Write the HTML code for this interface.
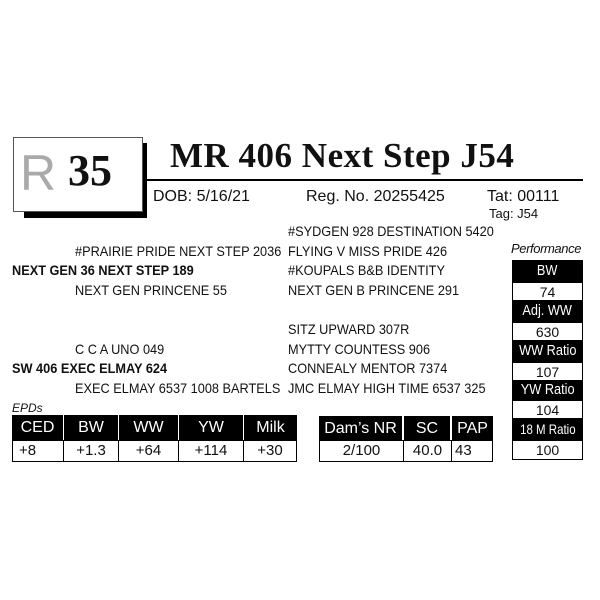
<!DOCTYPE html>
<html><head><style>
body{margin:0;width:600px;height:600px;background:#fff;position:relative;overflow:hidden;font-family:"Liberation Sans",Arial,sans-serif;color:#111}
.a{position:absolute;white-space:nowrap}
.n{position:absolute;white-space:nowrap;font-size:14px;line-height:16px;transform:scaleX(0.91);transform-origin:left center}
.b{font-weight:bold}
.blk{position:absolute;background:#000;color:#fff;text-align:center;font-size:15px;line-height:22px;white-space:nowrap}
.blk span{display:inline-block;transform:scaleX(0.85)}
.wt{position:absolute;background:#fff;border:1px solid #000;box-sizing:border-box;text-align:center;font-size:14px;line-height:18px;white-space:nowrap}
</style></head><body>
<div class="a" style="left:24px;top:143px;width:123px;height:75px;background:#000"></div>
<div class="a" style="left:13px;top:137px;width:130px;height:75px;background:#fff;border:1px solid #555;box-sizing:border-box"></div>
<div class="a" style="left:20px;top:143px;font-family:'Liberation Sans',sans-serif;font-size:50px;line-height:60px;color:#aaa">R</div>
<div class="a" style="left:68px;top:146px;font-family:'Liberation Serif',serif;font-weight:bold;font-size:44px;line-height:50px">35</div>
<div class="a" style="left:170px;top:137px;font-family:'Liberation Serif',serif;font-weight:bold;font-size:35px;line-height:38px;letter-spacing:0.5px">MR 406 Next Step J54</div>
<div class="a" style="left:147px;top:179px;width:436px;height:2px;background:#000"></div>
<div class="a" style="left:153px;top:188px;font-size:16px;line-height:18px">DOB: 5/16/21</div>
<div class="a" style="left:306px;top:188px;font-size:16px;line-height:18px">Reg. No. 20255425</div>
<div class="a" style="left:487px;top:188px;font-size:16px;line-height:18px">Tat: 00111</div>
<div class="a" style="left:489px;top:206px;font-size:13px;line-height:15px">Tag: J54</div>

<div class="n" style="left:288px;top:223px">#SYDGEN 928 DESTINATION 5420</div>
<div class="n" style="left:75px;top:243px">#PRAIRIE PRIDE NEXT STEP 2036</div>
<div class="n" style="left:288px;top:243px">FLYING V MISS PRIDE 426</div>
<div class="n b" style="left:12px;top:262px">NEXT GEN 36 NEXT STEP 189</div>
<div class="n" style="left:288px;top:262px">#KOUPALS B&amp;B IDENTITY</div>
<div class="n" style="left:75px;top:282px">NEXT GEN PRINCENE 55</div>
<div class="n" style="left:288px;top:282px">NEXT GEN B PRINCENE 291</div>
<div class="n" style="left:288px;top:321px">SITZ UPWARD 307R</div>
<div class="n" style="left:75px;top:341px">C C A UNO 049</div>
<div class="n" style="left:288px;top:341px">MYTTY COUNTESS 906</div>
<div class="n b" style="left:12px;top:360px">SW 406 EXEC ELMAY 624</div>
<div class="n" style="left:288px;top:360px">CONNEALY MENTOR 7374</div>
<div class="n" style="left:75px;top:380px">EXEC ELMAY 6537 1008 BARTELS</div>
<div class="n" style="left:288px;top:380px">JMC ELMAY HIGH TIME 6537 325</div>

<div class="a" style="left:511px;top:241px;font-size:13px;font-style:italic;line-height:16px;letter-spacing:-0.4px">Performance</div>
<div class="blk" style="left:512px;top:260px;width:71px"><span>BW</span></div>
<div class="wt" style="left:512px;top:282px;width:71px">74</div>
<div class="blk" style="left:512px;top:300px;width:71px"><span>Adj. WW</span></div>
<div class="wt" style="left:512px;top:322px;width:71px">630</div>
<div class="blk" style="left:512px;top:340px;width:71px"><span>WW Ratio</span></div>
<div class="wt" style="left:512px;top:362px;width:71px">107</div>
<div class="blk" style="left:512px;top:380px;width:71px;line-height:20px"><span>YW Ratio</span></div>
<div class="wt" style="left:512px;top:400px;width:71px">104</div>
<div class="blk" style="left:512px;top:418px;width:71px;font-size:14px"><span style="transform:scaleX(0.82)">18 M Ratio</span></div>
<div class="wt" style="left:512px;top:440px;width:71px;height:20px">100</div>

<div class="a" style="left:12px;top:401px;font-size:12px;font-style:italic;line-height:14px">EPDs</div>
<div class="blk" style="left:12px;top:415px;width:51px;line-height:26px;font-size:16px">CED</div>
<div class="blk" style="left:64px;top:415px;width:54px;line-height:26px;font-size:16px">BW</div>
<div class="blk" style="left:119px;top:415px;width:59px;line-height:26px;font-size:16px">WW</div>
<div class="blk" style="left:179px;top:415px;width:64px;line-height:26px;font-size:16px">YW</div>
<div class="blk" style="left:244px;top:415px;width:53px;line-height:26px;font-size:16px">Milk</div>
<div class="wt" style="left:12px;top:440px;width:52px;height:22px;text-align:left;padding-left:6px;font-size:15px;line-height:20px">+8</div>
<div class="wt" style="left:63px;top:440px;width:56px;height:22px;font-size:15px;line-height:20px">+1.3</div>
<div class="wt" style="left:118px;top:440px;width:61px;height:22px;font-size:15px;line-height:20px">+64</div>
<div class="wt" style="left:178px;top:440px;width:66px;height:22px;font-size:15px;line-height:20px">+114</div>
<div class="wt" style="left:243px;top:440px;width:54px;height:22px;font-size:15px;line-height:20px">+30</div>

<div class="blk" style="left:319px;top:416px;width:83px;line-height:25px;font-size:16px">Dam’s NR</div>
<div class="blk" style="left:404px;top:416px;width:46px;line-height:25px;font-size:16px">SC</div>
<div class="blk" style="left:452px;top:416px;width:41px;line-height:25px;font-size:16px">PAP</div>
<div class="wt" style="left:319px;top:440px;width:85px;height:22px;font-size:15px;line-height:20px">2/100</div>
<div class="wt" style="left:403px;top:440px;width:49px;height:22px;font-size:15px;line-height:20px">40.0</div>
<div class="wt" style="left:451px;top:440px;width:42px;height:22px;text-align:left;padding-left:3px;font-size:15px;line-height:20px">43</div>
</body></html>
